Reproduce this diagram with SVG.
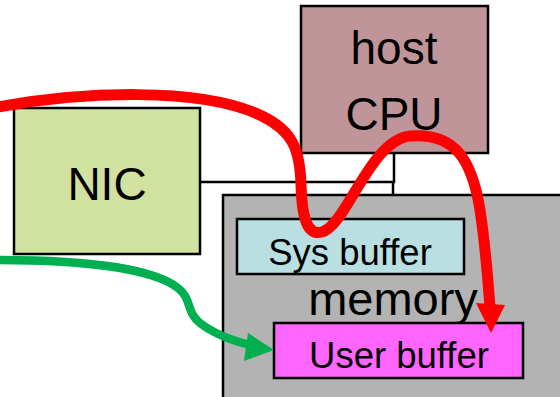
<svg xmlns="http://www.w3.org/2000/svg" width="560" height="397" viewBox="0 0 560 397">
<style>
.box{stroke:#000;stroke-width:2.5}
.t{font-family:"Liberation Sans",Arial,sans-serif;fill:#000;text-anchor:middle}
.wire{fill:none;stroke:#000;stroke-width:2.5}
</style>
<rect width="560" height="397" fill="#fff"/>
<g id="connectors-bus">
<path class="wire" d="M200,182 H394 V153 M393,182 V195"/>
</g>
<g id="memory">
<rect class="box" x="223" y="195" width="345" height="205" fill="#b3b3b3"/>
<text class="t" x="393" y="315" font-size="47">memory</text>
</g>
<g id="sysbuffer">
<rect class="box" x="237" y="219" width="227" height="55" fill="#b9dfe2"/>
<text class="t" x="350" y="265" font-size="36.5">Sys buffer</text>
</g>
<g id="userbuffer">
<rect class="box" x="274" y="323" width="249" height="55" fill="#ff66ff"/>
<text class="t" x="399" y="368" font-size="36.5">User buffer</text>
</g>
<g id="nic">
<rect class="box" x="14" y="108" width="186" height="146" fill="#d1e19f"/>
<text class="t" x="107" y="200" font-size="46">NIC</text>
</g>
<g id="hostcpu">
<rect class="box" x="301" y="6" width="187" height="147" fill="#c0959a"/>
<text class="t" x="394" y="64" font-size="46">host</text>
<text class="t" x="394" y="130" font-size="46">CPU</text>
</g>
<g id="connectors">
<path d="M-2,107 C80,92 200,86 262,116 C293,131 300,150 301,185 C302,215 306,236 322,232 C346,226 370,140 410,136 C455,132 472,160 480,210 C486,250 488,280 490,308" fill="none" stroke="#ff0000" stroke-width="11"/>
<polygon points="476,303 505,305 491,333" fill="#ff0000"/>
<path d="M-2,260 C70,260 150,266 178,288 C192,299 186,312 200,323 C214,334 230,340 250,345" fill="none" stroke="#00b050" stroke-width="8.5"/>
<polygon points="248,333 274,350 244,361" fill="#00b050"/>
</g>
</svg>
